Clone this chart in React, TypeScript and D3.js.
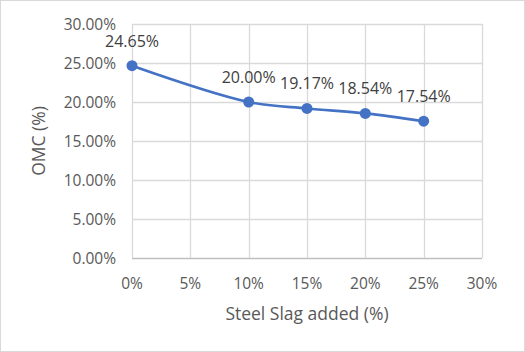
import { useRef, useEffect } from 'react';
import * as d3 from 'd3';

const slagAdded = [0, 0.1, 0.15, 0.2, 0.25];
const omc = [0.2465, 0.2, 0.1917, 0.1854, 0.1754];
const xTicks = [0, 0.05, 0.1, 0.15, 0.2, 0.25, 0.3];
const yTicks = [0, 0.05, 0.1, 0.15, 0.2, 0.25, 0.3];

function App() {
  const svgRef = useRef<SVGSVGElement>(null);
  const width = 525;
  const height = 352;

  useEffect(() => {
    const margin = { top: 24, right: 43, bottom: 94, left: 132 };
    const font = 'Open Sans, sans-serif';
    const svg = d3.select(svgRef.current);
    svg.selectAll('*').remove();

    svg
      .append('rect')
      .attr('x', 0.5)
      .attr('y', 0.5)
      .attr('width', width - 1)
      .attr('height', height - 1)
      .attr('fill', 'white')
      .attr('stroke', '#d9d9d9');

    const x = d3
      .scaleLinear()
      .domain([0, 0.3])
      .range([margin.left, width - margin.right]);
    const y = d3
      .scaleLinear()
      .domain([0, 0.3])
      .range([height - margin.bottom, margin.top]);

    // gridlines
    svg
      .append('g')
      .selectAll('line')
      .data(yTicks)
      .join('line')
      .attr('x1', x(0))
      .attr('x2', x(0.3))
      .attr('y1', (d) => Math.round(y(d)) + 0.5)
      .attr('y2', (d) => Math.round(y(d)) + 0.5)
      .attr('stroke', (d) => (d === 0 ? '#bfbfbf' : '#d9d9d9'))
      .attr('stroke-width', 1.3);

    svg
      .append('g')
      .selectAll('line')
      .data(xTicks)
      .join('line')
      .attr('x1', (d) => Math.round(x(d)) + 0.5)
      .attr('x2', (d) => Math.round(x(d)) + 0.5)
      .attr('y1', y(0))
      .attr('y2', y(0.3))
      .attr('stroke', '#d9d9d9')
      .attr('stroke-width', 1.3);

    const pct2 = d3.format('.2%');
    const pct0 = d3.format('.0%');

    svg
      .append('g')
      .selectAll('text')
      .data(yTicks)
      .join('text')
      .attr('x', x(0) - 16)
      .attr('y', (d) => y(d) + 5.5)
      .attr('text-anchor', 'end')
      .attr('font-family', font)
      .attr('font-size', 15.5)
      .attr('fill', '#595959')
      .text((d) => pct2(d));

    svg
      .append('g')
      .selectAll('text')
      .data(xTicks)
      .join('text')
      .attr('x', (d) => x(d))
      .attr('y', y(0) + 31)
      .attr('text-anchor', 'middle')
      .attr('font-family', font)
      .attr('font-size', 15.5)
      .attr('fill', '#595959')
      .text((d) => pct0(d));

    svg
      .append('text')
      .attr('x', (x(0) + x(0.3)) / 2)
      .attr('y', 320)
      .attr('text-anchor', 'middle')
      .attr('font-family', font)
      .attr('font-size', 17.5)
      .attr('fill', '#595959')
      .text('Steel Slag added (%)');

    svg
      .append('text')
      .attr('transform', `translate(45,${(y(0) + y(0.3)) / 2}) rotate(-90)`)
      .attr('text-anchor', 'middle')
      .attr('font-family', font)
      .attr('font-size', 17.5)
      .attr('fill', '#595959')
      .text('OMC (%)');

    const data = slagAdded.map((s, i) => ({ s, v: omc[i] }));

    const line = d3
      .line<{ s: number; v: number }>()
      .x((d) => x(d.s))
      .y((d) => y(d.v))
      .curve(d3.curveCatmullRom.alpha(0.5));

    svg
      .append('path')
      .datum(data)
      .attr('d', line)
      .attr('fill', 'none')
      .attr('stroke', '#4472c4')
      .attr('stroke-width', 2.6);

    svg
      .append('g')
      .selectAll('circle')
      .data(data)
      .join('circle')
      .attr('cx', (d) => x(d.s))
      .attr('cy', (d) => y(d.v))
      .attr('r', 5.5)
      .attr('fill', '#4472c4');

    svg
      .append('g')
      .selectAll('text')
      .data(data)
      .join('text')
      .attr('x', (d) => x(d.s))
      .attr('y', (d) => y(d.v) - 19)
      .attr('text-anchor', 'middle')
      .attr('font-family', font)
      .attr('font-size', 16)
      .attr('fill', '#404040')
      .text((d) => pct2(d.v));
  }, []);

  return (
    <svg
      ref={svgRef}
      width={width}
      height={height}
      style={{ position: 'absolute', left: 0, top: 0 }}
    ></svg>
  );
}

export default App;
